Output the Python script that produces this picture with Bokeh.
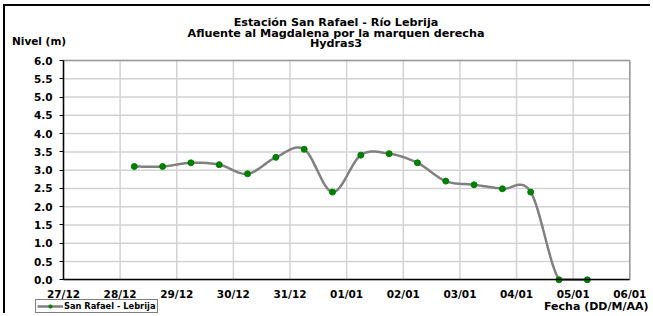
import numpy as np
import pandas as pd
from bokeh.plotting import figure
from bokeh.models import (Range1d, FixedTicker, Label, Legend, LegendItem,
                          NumeralTickFormatter)
from bokeh.embed import file_html
from bokeh.resources import INLINE

# ---------------- data ----------------
title_lines = ["Estación San Rafael - Río Lebrija",
               "Afluente al Magdalena por la marquen derecha",
               "Hydras3"]
y_label = "Nivel (m)"
x_label = "Fecha (DD/M/AA)"
series_name = "San Rafael - Lebrija"

fechas = ["2012-12-28 06:00", "2012-12-28 18:00",
          "2012-12-29 06:00", "2012-12-29 18:00",
          "2012-12-30 06:00", "2012-12-30 18:00",
          "2012-12-31 06:00", "2012-12-31 18:00",
          "2013-01-01 06:00", "2013-01-01 18:00",
          "2013-01-02 06:00", "2013-01-02 18:00",
          "2013-01-03 06:00", "2013-01-03 18:00",
          "2013-01-04 06:00", "2013-01-04 18:00",
          "2013-01-05 06:00"]
nivel = [3.10, 3.10, 3.20, 3.15, 2.90, 3.35, 3.57, 2.40, 3.41, 3.45,
         3.20, 2.70, 2.60, 2.49, 2.40, 0.00, 0.00]

x_start = "2012-12-27"
x_tick_labels = ["27/12", "28/12", "29/12", "30/12", "31/12", "01/01",
                 "02/01", "03/01", "04/01", "05/01", "06/01"]
y_min, y_max, y_step = 0.0, 6.0, 0.5

# ---------------- helpers ----------------
t0 = pd.Timestamp(x_start)
xs = np.array((pd.to_datetime(fechas) - t0) / pd.Timedelta(days=1), dtype=float)
ys = np.array(nivel, dtype=float)
x_ticks = list(range(len(x_tick_labels)))
y_ticks = list(np.round(np.arange(y_min, y_max + 1e-9, y_step), 2))


def smooth(x, y, n=24):
    P = np.column_stack([x, y])
    P = np.vstack([P[0], P, P[-1]])
    out = []
    for i in range(1, len(P) - 2):
        p0, p1, p2, p3 = P[i - 1], P[i], P[i + 1], P[i + 2]
        c1 = p1 + (p2 - p0) / 6.0
        c2 = p2 - (p3 - p1) / 6.0
        t = np.linspace(0, 1, n)[:, None]
        seg = ((1 - t) ** 3) * p1 + 3 * ((1 - t) ** 2) * t * c1 + 3 * (1 - t) * t ** 2 * c2 + t ** 3 * p2
        out.append(seg if i == 1 else seg[1:])
    return np.vstack(out)


curve = smooth(xs, ys)
curve_y = np.clip(curve[:, 1], y_min, y_max)   # plot area clips the curve

# ---------------- layout (page px) ----------------
OX, OY = 5, 6                 # canvas origin on the page (inside the border)
W, H = 647, 309
PX_L, PX_R = 63.0, 629.3      # plot area left / right
PY_T, PY_B = 60.0, 279.3      # plot area top / bottom

x0, x1 = x_ticks[0], x_ticks[-1]
kx = (x1 - x0) / (PX_R - PX_L)
ky = (y_max - y_min) / (PY_B - PY_T)
x_range = Range1d(x0 - (PX_L - OX) * kx, x1 + (OX + W - PX_R) * kx)
y_range = Range1d(y_min - (OY + H - PY_B) * ky, y_max + (PY_T - OY) * ky)

FONT = "DejaVu Sans"

p = figure(width=W, height=H, output_backend="svg", toolbar_location=None,
           x_range=x_range, y_range=y_range, min_border=0,
           background_fill_color="white", border_fill_color="white")
p.styles = {"margin-left": "3px", "margin-top": "4px",
            "border-left": "2px solid black", "border-top": "2px solid black"}
p.outline_line_color = None
p.xgrid.visible = False
p.ygrid.visible = False

# grid lines of the plot area
p.segment(x0=x_ticks, y0=[y_min] * len(x_ticks), x1=x_ticks, y1=[y_max] * len(x_ticks),
          line_color="#d2d2d2", line_width=1.5)
p.segment(x0=[x0] * len(y_ticks), y0=y_ticks, x1=[x1] * len(y_ticks), y1=y_ticks,
          line_color="#d2d2d2", line_width=1.5)
# plot-area border (top & right)
p.segment(x0=[x0, x1], y0=[y_max, y_min], x1=[x1, x1], y1=[y_max, y_max],
          line_color="#9a9a9a", line_width=1.5)

# axes
p.xaxis.ticker = FixedTicker(ticks=x_ticks)
p.xaxis.major_label_overrides = {i: lab for i, lab in zip(x_ticks, x_tick_labels)}
p.yaxis.ticker = FixedTicker(ticks=y_ticks)
p.yaxis.formatter = NumeralTickFormatter(format="0.0")
p.xaxis.fixed_location = y_min
p.yaxis.fixed_location = x0
p.xaxis.bounds = (x0, x1)
p.yaxis.bounds = (y_min, y_max)
for ax in (p.xaxis, p.yaxis):
    ax.axis_line_color = "black"
    ax.axis_line_width = 1.5
    ax.major_tick_line_color = "black"
    ax.major_tick_line_width = 1
    ax.major_tick_in = 0
    ax.minor_tick_line_color = None
    ax.major_label_text_font = FONT
    ax.major_label_text_font_style = "bold"
    ax.major_label_text_font_size = "10.5px"
    ax.major_label_text_color = "black"
p.yaxis.major_tick_out = 4
p.yaxis.major_label_standoff = 7
p.xaxis.major_tick_out = 0
p.xaxis.major_label_standoff = 8

# series
line_r = p.line(curve[:, 0], curve_y, line_color="#808080", line_width=2.5)
pts_r = p.scatter(xs, ys, size=6, fill_color="#008000", line_color="#008000")


def sx(page_x):
    return page_x - OX


def sy(page_y):
    return OY + H - page_y


for txt, py in zip(title_lines, [22, 32.5, 42.7]):
    p.add_layout(Label(x=sx(335.5), y=sy(py), x_units="screen", y_units="screen",
                       text=txt, text_align="center", text_baseline="middle",
                       text_font=FONT, text_font_style="bold",
                       text_font_size="11.2px", text_color="black"))

p.add_layout(Label(x=sx(11.5), y=sy(40), x_units="screen", y_units="screen",
                   text=y_label, text_align="left", text_baseline="middle",
                   text_font=FONT, text_font_style="bold",
                   text_font_size="10.5px", text_color="black"))
p.add_layout(Label(x=sx(648), y=sy(306), x_units="screen", y_units="screen",
                   text=x_label, text_align="right", text_baseline="middle",
                   text_font=FONT, text_font_style="bold",
                   text_font_size="11px", text_color="black"))

legend = Legend(items=[LegendItem(label=series_name, renderers=[line_r, pts_r])],
                location=(sx(35), sy(313)),
                border_line_color="black", border_line_width=1,
                background_fill_color="white", background_fill_alpha=1,
                label_text_font=FONT, label_text_font_style="bold",
                label_text_font_size="8.3px", label_text_color="black",
                padding=1, margin=0, spacing=0, label_standoff=1,
                glyph_width=26, glyph_height=8, label_height=8)
p.add_layout(legend)

open("out.html", "w").write(file_html(p, INLINE))
